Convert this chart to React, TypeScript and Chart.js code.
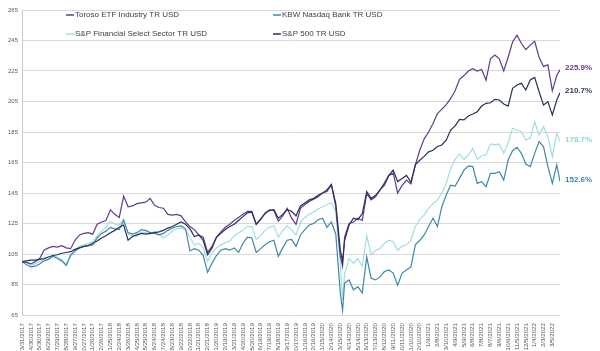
import { useEffect, useRef } from "react";
import { Chart, registerables } from "chart.js";

Chart.register(...registerables);

// Day offsets from 3/31/2017 for each sampled point
const days = [
  0, 15, 30, 45, 60, 75, 90, 105, 120, 135, 150, 165, 180, 195, 210, 225, 240, 255, 270, 285, 300, 315, 330, 345, 360,
  375, 390, 405, 420, 435, 450, 465, 480, 495, 510, 525, 540, 555, 570, 585, 600, 615, 630, 645, 660, 675, 690, 705, 720,
  735, 750, 765, 780, 795, 810, 825, 840, 855, 870, 885, 900, 915, 930, 945, 960, 975, 990, 1005, 1020, 1035, 1050, 1065, 1080,
  1088,
  1095, 1110, 1125, 1140, 1155, 1170, 1185, 1200, 1215, 1230, 1245, 1260, 1275, 1290, 1305, 1320, 1335, 1350, 1365, 1380, 1395, 1410,
  1425, 1440, 1455, 1470, 1485, 1500, 1515, 1530, 1545, 1560, 1575, 1590, 1605, 1620, 1635, 1650, 1665, 1680, 1695, 1710, 1725,
  1740, 1755, 1770, 1785, 1800, 1815, 1826,
];

const toroso = [
  100, 99.5, 98.5, 100, 102, 107.5, 109, 110, 109.5, 110.5, 109, 108.5, 114, 117.5, 118.5, 119, 118, 124.5, 126, 127, 134, 131, 129, 143, 136,
  136.5, 138, 138.5, 139, 141.5, 137, 135.5, 135, 131, 130.5, 131, 130, 126, 123, 121, 117.5, 116, 106, 110, 116, 119.5, 122.5, 124.5, 127,
  129, 131, 133, 133, 124.5, 127.5, 132, 134, 133.5, 126.5, 130, 135, 128.5, 124.5, 135, 137.5, 139.5, 141, 142.5, 145, 146, 150.5, 136, 104,
  97,
  116, 125, 126, 128.5, 127, 144.5, 140.5, 142.5, 147, 150, 156.5, 158, 145, 150, 153.5, 151, 163.5, 173, 180.5, 185, 190.5, 197, 200,
  203, 207, 212, 219.5, 222, 225, 226.5, 225, 226, 219, 233, 235.5, 233, 225, 234, 244, 248.5, 243, 239, 242, 244.5, 234, 228, 229, 212, 222, 225.9,
];

const kbw = [
  100, 98, 96.5, 97, 98.5, 100.5, 101.5, 103.5, 102, 100.5, 97.5, 104, 107, 109, 110, 110.5, 111, 115.5, 118.5, 120, 122.5, 121.5, 121, 127, 119,
  118, 119, 121, 120.5, 119, 118.5, 117.5, 118.5, 120.5, 122, 123, 123.5, 121.5, 107, 108.5, 107.5, 104, 93, 99, 104, 107.5, 108.5, 107.5, 109,
  106, 112, 116, 115.5, 106, 108.5, 111, 113, 114, 103.5, 109, 114, 114.5, 110, 117.5, 121, 124, 125, 127.5, 128.5, 122.5, 126, 118, 80,
  68,
  86, 88, 81.5, 83.5, 79.5, 103, 89, 88, 90, 93.5, 94.5, 92.5, 84.5, 92.5, 94.5, 96.5, 111, 114, 117.5, 123, 128.5, 123, 136,
  143.8, 150.2, 149.6, 154.6, 160, 162.7, 162.3, 151.3, 152.4, 149.1, 157.9, 157.9, 159, 153.5, 166.6, 172.7, 175, 171, 164, 162.3, 171, 178.7, 175.4, 162.3, 151.3, 163.4, 152.6,
];

const spFinancial = [
  100, 99.5, 97.5, 98.5, 100, 101.5, 103, 104, 103, 101, 98.5, 105, 107.5, 110, 111, 112, 113, 117, 120, 122.5, 126.5, 124.5, 124, 128, 118,
  117, 116.5, 119.5, 119, 118, 120, 118, 115.5, 117.5, 120, 121.5, 122, 121, 116, 111, 112, 109, 100, 106, 109, 111, 112.5, 113.5, 117,
  119, 120.5, 123, 123, 114.5, 117, 120.5, 122.5, 123.5, 116, 120.5, 123.5, 121, 117.5, 126, 129, 131, 132.5, 134.5, 136, 137.5, 138.5, 133, 100,
  75,
  92, 102, 99, 102, 97, 117, 104.5, 107.5, 108.5, 112, 114, 113, 107.5, 110, 111, 114, 123, 127.5, 130.5, 135, 138, 140.5, 145,
  151.3, 161.2, 167.1, 170.6, 167.1, 169.9, 174.3, 167.1, 169.3, 169.9, 177.1, 176.5, 177.1, 171, 177.6, 187.4, 186.3, 185.2, 179.8, 180.8, 191.7, 183, 188.5, 181.9, 168.8, 184.1, 178.7,
];

const sp500 = [
  100, 100.5, 101, 101, 101.5, 102, 103, 104, 104.5, 105.5, 106, 106.5, 108, 109, 110, 110.5, 112, 113.5, 115.5, 117, 119, 120.5, 122.5, 124, 114,
  116.5, 117.5, 118.5, 118, 118.5, 119, 119.5, 120.5, 122, 123, 124.5, 126, 124.5, 121.5, 116.5, 117.5, 114, 104.5, 109, 116, 118.5, 121, 123, 124.5,
  127, 129.5, 132, 132.5, 124.5, 128, 131.5, 133.5, 134, 128.5, 131, 134, 133, 130, 136.5, 138.5, 140.5, 141.5, 143.5, 145, 147, 150.5, 138, 108,
  100,
  114, 124, 128.5, 127.5, 131.5, 146, 141.5, 143.5, 147, 151.5, 156.5, 160, 152.5, 154.5, 156.5, 152, 163.5, 166.5, 169, 172, 173, 175.5, 176.5,
  179.8, 186.3, 189, 193.3, 192.9, 195.5, 196.8, 198.3, 202, 203.8, 204.2, 206.4, 206, 203.4, 202, 213.6, 215.8, 216.9, 212.5, 219.1, 220.8, 211.4, 202.7, 204.9, 196.2, 206, 210.7,
];

const seriesNames = [
  "Toroso ETF Industry TR USD",
  "KBW Nasdaq Bank TR USD",
  "S&P Financial Select Sector TR USD",
  "S&P 500 TR USD",
];
const seriesValues = [toroso, kbw, spFinancial, sp500];
const lineColors = ["#5E3C8F", "#3E88A9", "#A3DEDE", "#24335C"];
const labelColors = ["#6B3A80", "#3E88A9", "#8ED3D3", "#2C3A5C"];
const drawOrder = [1, 2, 3, 0];

const tickLabels = [
  "3/31/2017", "4/30/2017", "5/30/2017", "6/29/2017", "7/29/2017", "8/28/2017", "9/27/2017", "10/27/2017", "11/26/2017", "12/26/2017",
  "1/25/2018", "2/24/2018", "3/26/2018", "4/25/2018", "5/25/2018", "6/24/2018", "7/24/2018", "8/23/2018", "9/22/2018", "10/22/2018",
  "11/21/2018", "12/21/2018", "1/20/2019", "2/19/2019", "3/21/2019", "4/20/2019", "5/20/2019", "6/19/2019", "7/19/2019", "8/18/2019",
  "9/17/2019", "10/17/2019", "11/16/2019", "12/16/2019", "1/15/2020", "2/14/2020", "3/15/2020", "4/14/2020", "5/14/2020", "6/13/2020",
  "7/13/2020", "8/12/2020", "9/11/2020", "10/11/2020", "11/10/2020", "12/10/2020", "1/9/2021", "2/8/2021", "3/10/2021", "4/9/2021",
  "5/9/2021", "6/8/2021", "7/8/2021", "8/7/2021", "9/6/2021", "10/6/2021", "11/5/2021", "12/5/2021", "1/4/2022", "2/3/2022", "3/5/2022",
];

const yTicks = [65, 85, 105, 125, 145, 165, 185, 205, 225, 245, 265];

function dayOffset(label: string): number {
  const [m, d, y] = label.split("/").map(Number);
  const [m0, d0, y0] = tickLabels[0].split("/").map(Number);
  return Math.round((Date.UTC(y, m - 1, d) - Date.UTC(y0, m0 - 1, d0)) / 86400000);
}

const FONT = '"Liberation Sans", Arial, sans-serif';

export default function App() {
  const ref = useRef<HTMLCanvasElement | null>(null);

  useEffect(() => {
    if (!ref.current) return;
    const tickMap = new Map<number, string>();
    tickLabels.forEach((l) => tickMap.set(dayOffset(l), l));

    const legendPlugin = {
      id: "customLegend",
      afterDraw(chart: any) {
        const ctx = chart.ctx;
        const area = chart.chartArea;
        const pos = [
          [area.left + 44, area.top + 5],
          [area.left + 251, area.top + 5],
          [area.left + 44, area.top + 24],
          [area.left + 251, area.top + 24],
        ];
        ctx.save();
        seriesNames.forEach((name, i) => {
          const [x, y] = pos[i];
          ctx.strokeStyle = lineColors[i];
          ctx.lineWidth = 1.5;
          ctx.beginPath();
          ctx.moveTo(x, y);
          ctx.lineTo(x + 8, y);
          ctx.stroke();
          ctx.fillStyle = "#404040";
          ctx.font = `8px ${FONT}`;
          ctx.textBaseline = "middle";
          ctx.textAlign = "left";
          ctx.fillText(name, x + 9, y);
        });
        ctx.restore();
      },
    };

    const endLabelPlugin = {
      id: "endLabels",
      afterDraw(chart: any) {
        const ctx = chart.ctx;
        const area = chart.chartArea;
        const yScale = chart.scales.y;
        ctx.save();
        ctx.font = `bold 8px ${FONT}`;
        ctx.textBaseline = "middle";
        ctx.textAlign = "left";
        seriesValues.forEach((vals, i) => {
          const v = vals[vals.length - 1];
          const y = yScale.getPixelForValue(v) - 2;
          ctx.fillStyle = labelColors[i];
          ctx.fillText(v.toFixed(1) + "%", area.right + 5, y);
        });
        ctx.restore();
      },
    };

    const chart = new Chart(ref.current, {
      type: "line",
      data: {
        datasets: seriesNames.map((name, i) => ({
          label: name,
          data: days.map((d, j) => ({ x: d, y: seriesValues[i][j] })),
          borderColor: lineColors[i],
          backgroundColor: lineColors[i],
          borderWidth: 1.2,
          pointRadius: 0,
          tension: 0,
          fill: false,
          order: drawOrder[i],
        })),
      },
      options: {
        animation: false,
        responsive: false,
        maintainAspectRatio: false,
        layout: { padding: { top: 10, right: 40, left: 0, bottom: 0 } },
        plugins: { legend: { display: false }, tooltip: { enabled: false } },
        scales: {
          x: {
            type: "linear",
            min: 0,
            max: days[days.length - 1],
            grid: { display: false },
            border: { display: false },
            afterBuildTicks: (scale: any) => {
              scale.ticks = tickLabels.map((l) => ({ value: dayOffset(l) }));
            },
            afterFit: (scale: any) => {
              scale.height = 36;
            },
            ticks: {
              autoSkip: false,
              minRotation: 90,
              maxRotation: 90,
              padding: 0,
              color: "#595959",
              font: { size: 6.2, family: FONT },
              callback: (v: any) => tickMap.get(Number(v)) ?? "",
            },
          },
          y: {
            min: 65,
            max: 265,
            afterBuildTicks: (scale: any) => {
              scale.ticks = yTicks.map((v) => ({ value: v }));
            },
            afterFit: (scale: any) => {
              scale.width = 22;
            },
            grid: { color: "#d9d9d9", lineWidth: 1, drawTicks: false },
            border: { display: true, color: "#c8c8c8" },
            ticks: {
              padding: 4,
              color: "#595959",
              font: { size: 6, family: FONT },
            },
          },
        },
      },
      plugins: [legendPlugin, endLabelPlugin],
    } as any);

    return () => chart.destroy();
  }, []);

  return (
    <div style={{ position: "fixed", left: 0, top: 0, width: 600, height: 351, background: "#fff" }}>
      <canvas ref={ref} width={600} height={351} style={{ width: 600, height: 351, display: "block" }} />
    </div>
  );
}
